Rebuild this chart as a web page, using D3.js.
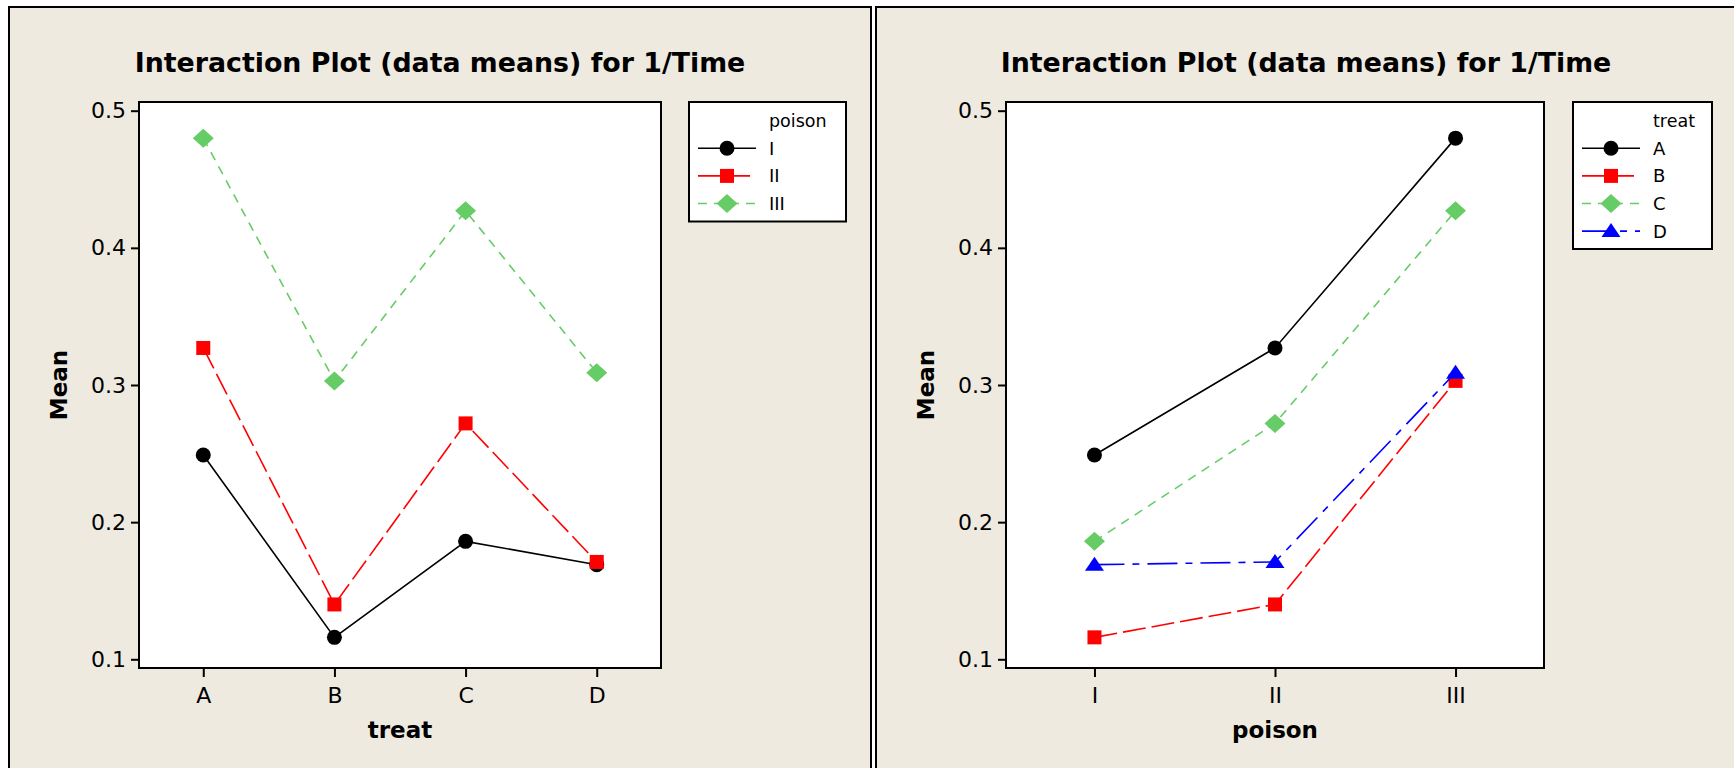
<!DOCTYPE html>
<html>
<head>
<meta charset="utf-8">
<script src="https://cdn.jsdelivr.net/npm/d3@7"></script>
<style>
  body { margin: 0; background: #ffffff; }
  svg { display: block; }
  text { font-family: "DejaVu Sans", Verdana, sans-serif; fill: #000; }
</style>
</head>
<body>
<div id="wrapper"></div>
<script>
// data (means of 1/Time)
const treats = ["A", "B", "C", "D"]
const poisons = ["I", "II", "III"]
const poisonI = [0.249, 0.116, 0.186, 0.169]
const poisonII = [0.327, 0.140, 0.272, 0.171]
const poisonIII = [0.480, 0.303, 0.427, 0.309]
const yTicks = [0.1, 0.2, 0.3, 0.4, 0.5]
const titleText = "Interaction Plot (data means) for 1/Time"

const poisonRows = [poisonI, poisonII, poisonIII]

// series styles
const styles = [
  {color: "#000000", dash: null, marker: "circle"},
  {color: "#ff0000", dash: "23,6", marker: "square"},
  {color: "#66cc66", dash: "9,7", marker: "diamond"},
  {color: "#0000ff", dash: "30,8,7,8", marker: "triangle"},
]

function drawChart() {
  const width = 1734, height = 768
  const svg = d3.select("#wrapper").append("svg")
    .attr("width", width)
    .attr("height", height)

  // y scale shared by both panels
  const y = d3.scaleLinear().domain([0.1, 0.5]).range([659.3, 110.7])
  const plotTop = 102, plotBottom = 668

  function marker(g, type, color, cx, cy) {
    if (type == "circle") {
      g.append("circle").attr("cx", cx).attr("cy", cy).attr("r", 7.5).attr("fill", color)
    } else if (type == "square") {
      g.append("rect").attr("x", cx - 7).attr("y", cy - 7).attr("width", 14).attr("height", 14).attr("fill", color)
    } else if (type == "diamond") {
      g.append("path").attr("d", `M${cx - 10.5},${cy}L${cx},${cy - 9.5}L${cx + 10.5},${cy}L${cx},${cy + 9.5}Z`).attr("fill", color)
    } else {
      g.append("path").attr("d", `M${cx - 9.5},${cy + 6}L${cx},${cy - 8}L${cx + 9.5},${cy + 6}Z`).attr("fill", color)
    }
  }

  function drawPanel(p) {
    // panel frame
    svg.append("rect")
      .attr("x", p.panelX).attr("y", 7)
      .attr("width", p.panelW).attr("height", 800)
      .attr("fill", "#eeeae0")
      .attr("stroke", "#000").attr("stroke-width", 2)

    svg.append("text")
      .attr("x", p.panelX + p.panelW / 2).attr("y", 72)
      .attr("text-anchor", "middle")
      .style("font-weight", "bold").style("font-size", "26.8px")
      .text(titleText)

    const x = d3.scalePoint().domain(p.cats).range([p.left, p.right]).padding(0.49)

    svg.append("rect")
      .attr("x", p.left).attr("y", plotTop)
      .attr("width", p.right - p.left).attr("height", plotBottom - plotTop)
      .attr("fill", "#fff")

    // series lines
    const line = d3.line().x(d => x(d.cat)).y(d => y(d.v))
    const bounds = svg.append("g")
    p.series.forEach((vals, i) => {
      const st = styles[i]
      const pts = vals.map((v, j) => ({cat: p.cats[j], v: v}))
      bounds.append("path")
        .attr("d", line(pts))
        .attr("fill", "none")
        .attr("stroke", st.color)
        .attr("stroke-width", 1.6)
        .attr("stroke-dasharray", st.dash)
      pts.forEach(d => marker(bounds, st.marker, st.color, x(d.cat), y(d.v)))
    })

    svg.append("rect")
      .attr("x", p.left).attr("y", plotTop)
      .attr("width", p.right - p.left).attr("height", plotBottom - plotTop)
      .attr("fill", "none").attr("stroke", "#000").attr("stroke-width", 2)

    // axes
    const yAxis = svg.append("g")
      .attr("transform", `translate(${p.left - 1},0)`)
      .call(d3.axisLeft(y).tickValues(yTicks).tickFormat(d3.format(".1f")).tickSize(7).tickPadding(5))
    const xAxis = svg.append("g")
      .attr("transform", `translate(0,${plotBottom + 1})`)
      .call(d3.axisBottom(x).tickSize(8).tickPadding(10))
    for (const ax of [yAxis, xAxis]) {
      ax.select(".domain").remove()
      ax.selectAll(".tick line").attr("stroke", "#000").attr("stroke-width", 2)
      ax.selectAll(".tick text").style("font-size", "22px").attr("fill", "#000")
        .style("font-family", "\"DejaVu Sans\", Verdana, sans-serif")
    }

    svg.append("text")
      .attr("x", (p.left + p.right) / 2).attr("y", 738)
      .attr("text-anchor", "middle")
      .style("font-weight", "bold").style("font-size", "23px")
      .text(p.xTitle)

    svg.append("text")
      .attr("transform", `translate(${p.left - 80},385) rotate(-90)`)
      .attr("text-anchor", "middle").attr("dy", "0.36em")
      .style("font-weight", "bold").style("font-size", "23px")
      .text("Mean")

    // legend
    const lx = p.legendX
    const legend = svg.append("g")
    legend.append("rect")
      .attr("x", lx).attr("y", 102)
      .attr("width", p.legendW).attr("height", 37 + 27.5 * p.legendItems.length)
      .attr("fill", "#fff").attr("stroke", "#000").attr("stroke-width", 2)
    legend.append("text")
      .attr("x", lx + 80).attr("y", 126.5)
      .style("font-size", "17.5px")
      .text(p.legendTitle)
    p.legendItems.forEach((name, i) => {
      const st = styles[i]
      const cy = 148.3 + i * 27.6
      legend.append("line")
        .attr("x1", lx + 9).attr("x2", lx + 67)
        .attr("y1", cy).attr("y2", cy)
        .attr("stroke", st.color).attr("stroke-width", 1.6)
        .attr("stroke-dasharray", st.dash)
      marker(legend, st.marker, st.color, lx + 38, cy)
      legend.append("text")
        .attr("x", lx + 80).attr("y", cy).attr("dy", "0.36em")
        .style("font-size", "18px")
        .text(name)
    })
  }

  // left: treat on x, one line per poison
  drawPanel({
    panelX: 9, panelW: 862,
    left: 139, right: 661,
    cats: treats,
    series: poisonRows,
    xTitle: "treat",
    legendX: 689, legendW: 157,
    legendTitle: "poison",
    legendItems: poisons,
  })

  // right: poison on x, one line per treat
  drawPanel({
    panelX: 876, panelW: 860,
    left: 1006, right: 1544,
    cats: poisons,
    series: treats.map((t, j) => poisonRows.map(row => row[j])),
    xTitle: "poison",
    legendX: 1573, legendW: 139,
    legendTitle: "treat",
    legendItems: treats,
  })
}
drawChart()
</script>
</body>
</html>
